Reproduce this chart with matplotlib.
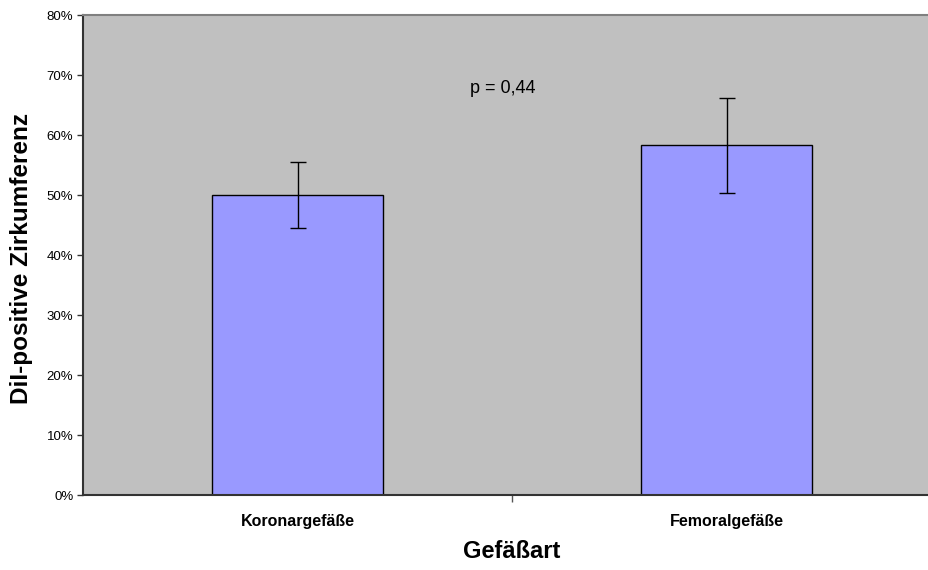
import matplotlib
matplotlib.use("Agg")
import matplotlib.pyplot as plt
from matplotlib.ticker import FuncFormatter

categories = ["Koronargefäße", "Femoralgefäße"]
values = [50.0, 58.3]
errors = [5.5, 7.9]
yticks = [0, 10, 20, 30, 40, 50, 60, 70, 80]
p_text = "p = 0,44"

plt.rcParams['font.family'] = ['Liberation Sans', 'DejaVu Sans']

W, H = 929, 570
fig = plt.figure(figsize=(W / 100, H / 100), dpi=100)
ax = fig.add_axes([83 / W, 75 / H, 858 / W, 480 / H])
ax.set_facecolor('#C0C0C0')

x = list(range(len(categories)))
ax.bar(x, values, width=0.4, color='#9999FF', edgecolor='black', linewidth=1, zorder=2)
ax.errorbar(x, values, yerr=errors, fmt='none', ecolor='black', elinewidth=1,
            capsize=5.8, capthick=1, zorder=3)

ax.set_xlim(-0.5, 1.5)
ax.set_ylim(0, 80)
ax.set_yticks(yticks)
ax.yaxis.set_major_formatter(FuncFormatter(lambda v, p: f"{int(v)}%"))
ax.tick_params(axis='y', direction='out', length=4, width=1, color='#333333',
               labelsize=9.5, pad=3)

ax.set_xticks(x)
ax.set_xticklabels(categories, fontsize=11.5, fontweight='bold')
ax.tick_params(axis='x', which='major', length=0, pad=14)
ax.set_xticks([0.5], minor=True)
ax.tick_params(axis='x', which='minor', direction='out', length=5, width=1, color='#555555')

ax.spines['right'].set_visible(False)
ax.spines['top'].set_color('#808080')
ax.spines['top'].set_linewidth(1.5)
ax.spines['left'].set_color('#333333')
ax.spines['left'].set_linewidth(1.5)
ax.spines['bottom'].set_color('#333333')
ax.spines['bottom'].set_linewidth(1.5)

ax.text(0.402, 67.7, p_text, fontsize=13, ha='left', va='center', zorder=4)

fig.text(22 / W, 1 - 258 / H, "DiI-positive Zirkumferenz", rotation=90,
         fontsize=17.5, fontweight='bold', ha='center', va='center')
fig.text(512 / W, 1 - 551 / H, "Gefäßart", fontsize=17, fontweight='bold',
         ha='center', va='center')

fig.savefig("out.png", dpi=100)
